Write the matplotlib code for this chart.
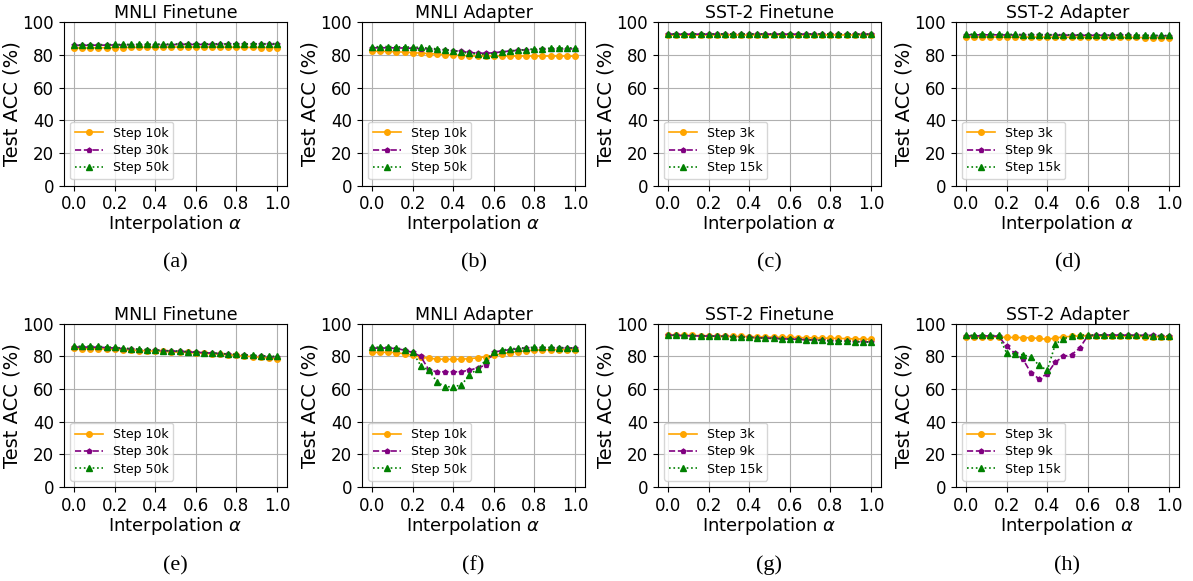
import numpy as np
import matplotlib.pyplot as plt

# interpolation coefficients (26 points, step 0.04)
alpha = np.linspace(0.0, 1.0, 26)

# ---- top row ----
a_10k = [84.4, 84.3, 84.4, 84.5, 84.5, 84.6, 84.6, 84.7, 84.7, 84.8, 84.8, 84.8, 84.9,
         84.9, 84.9, 84.9, 84.9, 84.9, 84.8, 84.8, 84.8, 84.7, 84.7, 84.6, 84.6, 84.6]
a_30k = [85.9, 86.0, 86.0, 86.1, 86.1, 86.2, 86.2, 86.3, 86.3, 86.3, 86.4, 86.4, 86.4,
         86.5, 86.5, 86.5, 86.5, 86.5, 86.5, 86.5, 86.6, 86.6, 86.6, 86.6, 86.6, 86.6]
a_50k = [86.1, 86.2, 86.3, 86.4, 86.4, 86.5, 86.5, 86.6, 86.6, 86.7, 86.7, 86.7, 86.8,
         86.8, 86.8, 86.8, 86.9, 86.9, 86.9, 86.9, 86.9, 86.9, 86.9, 86.9, 87.0, 87.0]

b_10k = [82.4, 82.3, 82.2, 82.0, 81.8, 81.5, 81.2, 80.9, 80.6, 80.3, 80.0, 79.7, 79.5,
         79.4, 79.4, 79.4, 79.4, 79.4, 79.4, 79.4, 79.4, 79.4, 79.4, 79.4, 79.4, 79.3]
b_30k = [84.4, 84.5, 84.5, 84.4, 84.3, 84.2, 84.0, 83.7, 83.4, 83.1, 82.8, 82.2, 81.6,
         81.2, 81.1, 81.4, 82.0, 82.5, 82.9, 83.2, 83.4, 83.5, 83.6, 83.7, 83.8, 83.8]
b_50k = [85.0, 85.2, 85.2, 85.1, 85.0, 84.9, 84.7, 84.3, 83.8, 83.3, 82.7, 81.8, 81.1,
         80.6, 80.3, 80.9, 81.8, 82.5, 83.0, 83.4, 83.8, 84.0, 84.2, 84.3, 84.4, 84.4]

c_3k = [92.2, 92.2, 92.2, 92.2, 92.3, 92.3, 92.3, 92.3, 92.3, 92.3, 92.3, 92.3, 92.3,
        92.3, 92.3, 92.3, 92.3, 92.3, 92.3, 92.3, 92.3, 92.3, 92.3, 92.3, 92.3, 92.3]
c_9k = [92.8, 92.8, 92.8, 92.8, 92.8, 92.8, 92.8, 92.8, 92.8, 92.8, 92.8, 92.8, 92.8,
        92.8, 92.8, 92.8, 92.8, 92.8, 92.8, 92.8, 92.8, 92.8, 92.8, 92.7, 92.7, 92.7]
c_15k = [93.0, 93.0, 93.0, 93.0, 93.0, 93.0, 93.0, 93.0, 93.0, 93.0, 93.0, 93.0, 93.0,
         93.0, 93.0, 93.0, 93.0, 93.0, 93.0, 93.0, 93.0, 92.9, 92.9, 92.9, 92.9, 92.9]

d_3k = [91.2, 91.1, 91.1, 91.1, 91.0, 91.0, 91.0, 91.0, 91.0, 91.0, 90.9, 90.9, 90.9,
        90.9, 90.9, 90.9, 90.9, 90.8, 90.8, 90.8, 90.8, 90.8, 90.7, 90.7, 90.7, 90.6]
d_9k = [92.4, 92.4, 92.4, 92.4, 92.4, 92.3, 92.3, 92.3, 92.3, 92.2, 92.2, 92.2, 92.2,
        92.1, 92.1, 92.1, 92.1, 92.0, 92.0, 92.0, 92.0, 91.9, 91.9, 91.9, 91.8, 91.8]
d_15k = [92.8, 92.8, 92.8, 92.8, 92.7, 92.7, 92.7, 92.6, 92.6, 92.6, 92.5, 92.5, 92.5,
         92.4, 92.4, 92.4, 92.3, 92.3, 92.3, 92.2, 92.2, 92.2, 92.1, 92.1, 92.0, 92.0]

# ---- bottom row ----
e_10k = [84.9, 84.8, 84.8, 84.7, 84.5, 84.3, 84.0, 83.8, 83.6, 83.4, 83.2, 83.0, 82.8,
         82.6, 82.4, 82.1, 81.9, 81.6, 81.3, 81.0, 80.6, 80.2, 79.8, 79.4, 79.0, 78.5]
e_30k = [85.7, 85.7, 85.7, 85.6, 85.4, 85.1, 84.8, 84.5, 84.2, 84.0, 83.8, 83.5, 83.3,
         83.0, 82.8, 82.5, 82.3, 82.0, 81.7, 81.4, 81.1, 80.8, 80.4, 80.1, 79.8, 79.6]
e_50k = [86.1, 86.2, 86.2, 86.1, 85.8, 85.5, 85.1, 84.8, 84.5, 84.2, 83.9, 83.6, 83.4,
         83.2, 82.9, 82.6, 82.3, 82.1, 81.8, 81.5, 81.2, 81.0, 80.7, 80.4, 80.2, 80.0]

f_10k = [82.4, 82.5, 82.5, 82.3, 81.5, 80.8, 79.5, 78.8, 78.4, 78.2, 78.2, 78.3, 78.6,
         79.1, 79.8, 80.6, 81.6, 82.3, 82.9, 83.4, 83.8, 84.0, 84.1, 84.1, 84.1, 84.0]
f_30k = [85.0, 85.1, 85.1, 84.8, 83.8, 82.4, 80.0, 71.6, 70.6, 70.6, 70.5, 70.7, 71.5,
         73.0, 74.6, 82.6, 83.5, 84.1, 84.6, 84.9, 85.1, 85.2, 85.2, 85.2, 85.1, 85.0]
f_50k = [85.5, 85.7, 85.6, 85.2, 84.2, 82.5, 74.4, 71.4, 64.4, 61.3, 61.5, 62.4, 68.6,
         72.4, 77.6, 82.6, 83.8, 84.6, 85.0, 85.4, 85.6, 85.6, 85.5, 85.4, 85.3, 85.1]

g_3k = [93.1, 93.0, 92.9, 92.8, 92.7, 92.6, 92.5, 92.4, 92.3, 92.2, 92.1, 92.0, 91.9,
        91.8, 91.7, 91.6, 91.5, 91.4, 91.3, 91.2, 91.1, 91.0, 90.9, 90.7, 90.6, 90.4]
g_9k = [93.0, 92.8, 92.7, 92.6, 92.5, 92.4, 92.3, 92.2, 92.0, 91.8, 91.6, 91.4, 91.2,
        91.0, 90.8, 90.6, 90.4, 90.2, 90.0, 89.8, 89.6, 89.4, 89.2, 89.1, 88.9, 88.8]
g_15k = [93.1, 92.9, 92.8, 92.7, 92.6, 92.5, 92.4, 92.2, 92.0, 91.8, 91.6, 91.4, 91.2,
         91.0, 90.8, 90.6, 90.4, 90.2, 90.0, 89.8, 89.6, 89.4, 89.2, 89.0, 88.9, 88.8]

h_3k = [91.8, 91.8, 91.9, 91.9, 91.9, 91.6, 91.6, 91.5, 91.4, 91.0, 90.4, 91.3, 91.9,
        92.3, 92.5, 92.5, 92.4, 92.4, 92.3, 92.3, 92.2, 92.2, 92.1, 92.1, 92.0, 92.0]
h_9k = [92.5, 92.6, 92.6, 92.5, 92.4, 86.1, 82.0, 78.4, 69.8, 66.3, 69.4, 76.5, 80.0,
        81.0, 85.1, 92.6, 93.0, 93.1, 93.1, 93.0, 93.0, 92.9, 92.9, 92.8, 92.7, 92.6]
h_15k = [93.0, 92.9, 92.9, 92.8, 92.8, 82.0, 81.5, 81.0, 79.6, 74.5, 71.4, 87.5, 90.8,
         92.3, 93.1, 93.1, 93.1, 93.1, 93.0, 93.0, 92.9, 92.9, 92.8, 92.7, 92.6, 92.5]

panels = [
    ('MNLI Finetune', ['Step 10k', 'Step 30k', 'Step 50k'], [a_10k, a_30k, a_50k], '(a)'),
    ('MNLI Adapter', ['Step 10k', 'Step 30k', 'Step 50k'], [b_10k, b_30k, b_50k], '(b)'),
    ('SST-2 Finetune', ['Step 3k', 'Step 9k', 'Step 15k'], [c_3k, c_9k, c_15k], '(c)'),
    ('SST-2 Adapter', ['Step 3k', 'Step 9k', 'Step 15k'], [d_3k, d_9k, d_15k], '(d)'),
    ('MNLI Finetune', ['Step 10k', 'Step 30k', 'Step 50k'], [e_10k, e_30k, e_50k], '(e)'),
    ('MNLI Adapter', ['Step 10k', 'Step 30k', 'Step 50k'], [f_10k, f_30k, f_50k], '(f)'),
    ('SST-2 Finetune', ['Step 3k', 'Step 9k', 'Step 15k'], [g_3k, g_9k, g_15k], '(g)'),
    ('SST-2 Adapter', ['Step 3k', 'Step 9k', 'Step 15k'], [h_3k, h_9k, h_15k], '(h)'),
]

styles = [('orange', '-', 'o', 4), ('purple', '--', 'p', 3.5), ('green', ':', '^', 4)]

fig = plt.figure(figsize=(11.93, 5.81), dpi=100)
lefts = [0.0536, 0.3034, 0.5515, 0.8013]
bottoms = [0.6804, 0.1618]
w, h = 0.187, 0.2810

for i, (title, labels, series, cap) in enumerate(panels):
    row, col = divmod(i, 4)
    ax = fig.add_axes([lefts[col], bottoms[row], w, h])
    for (color, ls, mk, ms), lab, ys in zip(styles, labels, series):
        ax.plot(alpha, ys, color=color, linestyle=ls, marker=mk,
                markersize=ms, linewidth=1.2, label=lab)
    ax.set_ylim(0, 100)
    ax.set_yticks(np.arange(0, 101, 20))
    ax.set_xticks(np.arange(0, 1.01, 0.2))
    ax.grid(True)
    ax.tick_params(labelsize=12)
    ax.set_title(title, fontsize=12.5, pad=3)
    ax.set_xlabel(r'Interpolation $\alpha$', fontsize=13, labelpad=0)
    ax.set_ylabel('Test ACC (%)', fontsize=14, labelpad=1)
    ax.legend(loc='lower left', fontsize=9, handlelength=2.2, labelspacing=0.35)
    ax.text(0.5, -0.47 - 0.01 * row, cap, transform=ax.transAxes, ha='center',
            va='center', fontsize=16, family='Liberation Serif')

fig.savefig('out.png', dpi=100)
